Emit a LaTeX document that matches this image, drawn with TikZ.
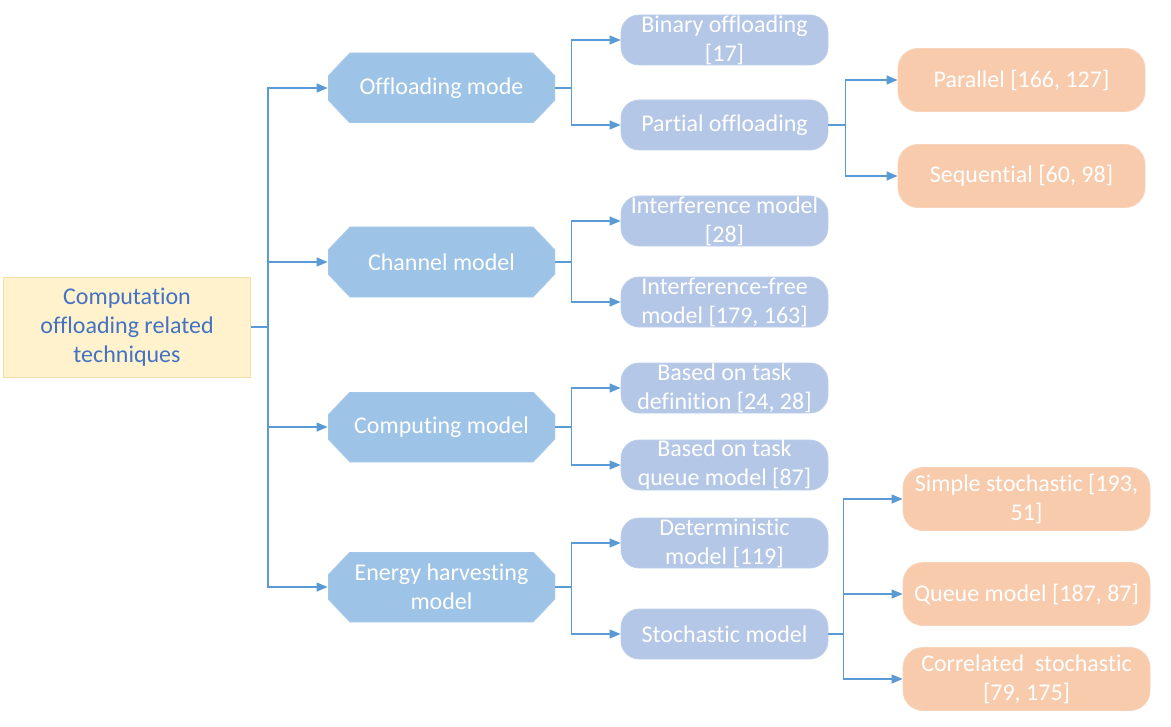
\documentclass[tikz,border=0pt]{standalone}
\usepackage{fontspec}
\setmainfont{Carlito}[Ligatures=NoCommon]
\usepackage{xcolor}
\usetikzlibrary{arrows.meta, positioning}
\definecolor{rootfill}{HTML}{FFF2CC}
\definecolor{rootedge}{HTML}{F5DFA8}
\definecolor{roottext}{HTML}{4472C4}
\definecolor{modelfill}{HTML}{9DC3E6}
\definecolor{methodfill}{HTML}{B4C7E7}
\definecolor{variantfill}{HTML}{F8CBAD}
\definecolor{linkblue}{HTML}{5B9BD5}
\tikzstyle{arrow} = [line width=0.6pt, draw=linkblue, -{Triangle[length=5.5pt,width=4.5pt]}]
\tikzstyle{topic} = [rectangle, draw=rootedge, fill=rootfill, text=roottext, minimum width=123.5pt, minimum height=50pt, inner sep=0pt, align=center]
% octagon drawn inside the node box
\tikzstyle{model} = [rectangle, fill=white, text=white, minimum width=113.5pt, minimum height=35pt, inner sep=0pt, align=center,
    path picture={\fill[modelfill, draw=modelfill!85!white]
        ([xshift=11pt]path picture bounding box.north west) -- ([xshift=-11pt]path picture bounding box.north east)
        -- ([yshift=-11.5pt]path picture bounding box.north east) -- ([yshift=11.5pt]path picture bounding box.south east)
        -- ([xshift=-11pt]path picture bounding box.south east) -- ([xshift=11pt]path picture bounding box.south west)
        -- ([yshift=11.5pt]path picture bounding box.south west) -- ([yshift=-11.5pt]path picture bounding box.north west) -- cycle;}]
\tikzstyle{method} = [rectangle, rounded corners=9pt, draw=methodfill!85!white, fill=methodfill, text=white, minimum width=103.5pt, minimum height=25pt, inner sep=0pt, align=center]
\tikzstyle{variant} = [rectangle, rounded corners=10pt, draw=variantfill!85!white, fill=variantfill, text=white, minimum width=123.5pt, minimum height=31.5pt, inner sep=0pt, align=center]

\begin{document}
\begin{tikzpicture}[x=0.5pt, y=-0.5pt, font=\fontsize{12}{14.5}\selectfont]
        \useasboundingbox (0,0) rectangle (1171,727);

        \node (root) [topic] at (127,327) {Computation\\offloading related\\techniques};

        \node (offmode) [model] at (441.5,88) {Offloading mode};
        \node (chanmodel) [model] at (441.5,262) {Channel model};
        \node (compmodel) [model] at (441.5,427) {Computing model};
        \node (energymodel) [model] at (441.5,587) {Energy harvesting\\model};

        \node (binary) [method] at (724.5,40) {Binary offloading\\{[17]}};
        \node (partial) [method] at (724.5,125) {Partial offloading};
        \node (interf) [method] at (724.5,221) {Interference model\\{[28]}};
        \node (interffree) [method] at (724.5,302) {Interference-free\\model [179, 163]};
        \node (taskdef) [method] at (724.5,388) {Based on task\\definition [24, 28]};
        \node (taskqueue) [method] at (724.5,465) {Based on task\\queue model [87]};
        \node (determ) [method] at (724.5,543) {Deterministic\\model [119]};
        \node (stoch) [method] at (724.5,634) {Stochastic model};

        \node (parallel) [variant] at (1021.5,80) {Parallel [166, 127]};
        \node (sequential) [variant] at (1021.5,176) {Sequential [60, 98]};
        \node (simple) [variant] at (1026.5,499) {Simple stochastic [193,\\51]};
        \node (queue) [variant] at (1026.5,594) {Queue model [187, 87]};
        \node (correlated) [variant] at (1026.5,679) {Correlated\ \ stochastic\\{[79, 175]}};

        \foreach \n in {offmode,chanmodel,compmodel,energymodel}
            \draw [arrow] (root.east) -- ++(17,0) |- (\n.west);

        \draw [arrow] (offmode.east) -- ++(16,0) |- (binary.west);
        \draw [arrow] (offmode.east) -- ++(16,0) |- (partial.west);
        \draw [arrow] (chanmodel.east) -- ++(16,0) |- (interf.west);
        \draw [arrow] (chanmodel.east) -- ++(16,0) |- (interffree.west);
        \draw [arrow] (compmodel.east) -- ++(16,0) |- (taskdef.west);
        \draw [arrow] (compmodel.east) -- ++(16,0) |- (taskqueue.west);
        \draw [arrow] (energymodel.east) -- ++(16,0) |- (determ.west);
        \draw [arrow] (energymodel.east) -- ++(16,0) |- (stoch.west);

        \draw [arrow] (partial.east) -- ++(17,0) |- (parallel.west);
        \draw [arrow] (partial.east) -- ++(17,0) |- (sequential.west);
        \foreach \n in {simple,queue,correlated}
            \draw [arrow] (stoch.east) -- ++(15,0) |- (\n.west);
    \end{tikzpicture}
\end{document}
